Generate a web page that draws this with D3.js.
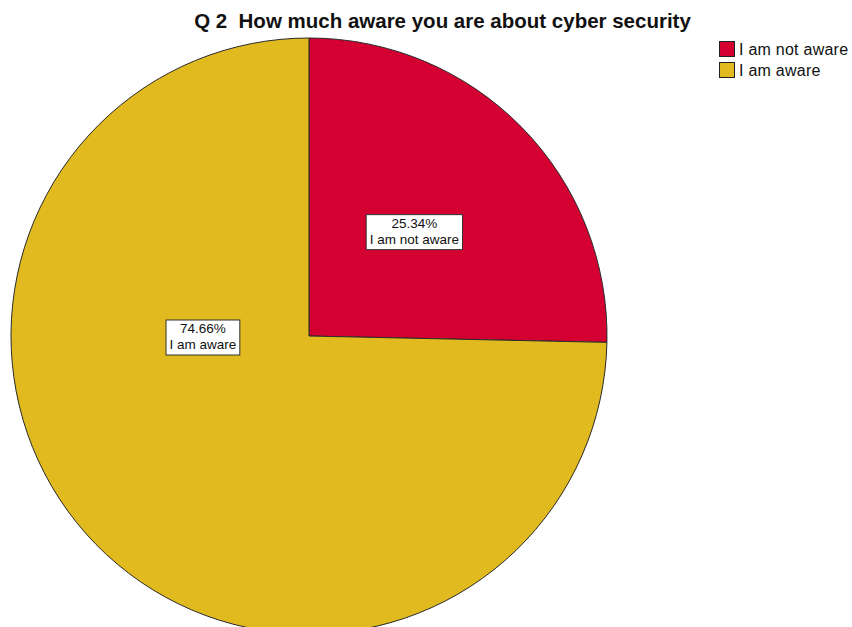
<!DOCTYPE html>
<html><head><meta charset="utf-8">
<script src="https://cdn.jsdelivr.net/npm/d3@7"></script>
<style>body{margin:0;background:#fff}svg{display:block}text{white-space:pre}</style>
</head><body>
<script>
const categories = ["I am not aware", "I am aware"];
const values = [25.34, 74.66];
const colors = ["#D50032", "#E0BA1E"];
const title = "Q 2  How much aware you are about cyber security";

const W = 852, H = 627;
const svg = d3.select("body").append("svg").attr("width", W).attr("height", H);
const cx = 309, cy = 336, r = 298;

svg.append("text").attr("x", 442.5).attr("y", 28).attr("text-anchor", "middle")
  .attr("font-family", "Arial, 'Liberation Sans', sans-serif").attr("font-weight", "bold")
  .attr("font-size", 20.5).attr("fill", "#111").text(title);

const pie = d3.pie().sort(null).value(d => d)(values);
const arc = d3.arc().innerRadius(0).outerRadius(r);
const g = svg.append("g").attr("transform", `translate(${cx},${cy})`);
g.selectAll("path").data(pie).enter().append("path")
  .attr("d", arc).attr("fill", (d, i) => colors[i])
  .attr("stroke", "#2a2a2a").attr("stroke-width", 1);

// label positions: polar (angle from top, fraction of radius)
const labelPos = [[Math.PI/4, 0.5], [-Math.PI/2, 0.356]];
pie.forEach((d, i) => {
  const [a, f] = labelPos[i];
  const x = Math.sin(a) * r * f, y = -Math.cos(a) * r * f;
  const lg = g.append("g").attr("transform", `translate(${x},${y})`);
  const t = lg.append("text").attr("text-anchor", "middle")
    .attr("font-family", "Arial, 'Liberation Sans', sans-serif").attr("font-size", 13.5).attr("fill", "#111");
  t.append("tspan").attr("x", 0).attr("y", -3).text(values[i].toFixed(2) + "%");
  t.append("tspan").attr("x", 0).attr("y", 13).text(categories[i]);
  const bb = t.node().getBBox();
  lg.insert("rect", "text").attr("x", bb.x - 3.5).attr("y", bb.y - 1)
    .attr("width", bb.width + 7).attr("height", bb.height + 4)
    .attr("fill", "#fff").attr("stroke", "#333").attr("stroke-width", 1);
});

const leg = svg.append("g").attr("transform", "translate(719,41)");
categories.forEach((c, i) => {
  const row = leg.append("g").attr("transform", `translate(0,${i * 21})`);
  row.append("rect").attr("x", 0.5).attr("y", 0.5).attr("width", 15).attr("height", 15)
    .attr("fill", colors[i]).attr("stroke", "#222").attr("stroke-width", 1);
  row.append("text").attr("x", 20).attr("y", 14)
    .attr("font-family", "Arial, 'Liberation Sans', sans-serif").attr("font-size", 16)
    .attr("letter-spacing", 0.25).attr("fill", "#111").text(c);
});
</script>
</body></html>
